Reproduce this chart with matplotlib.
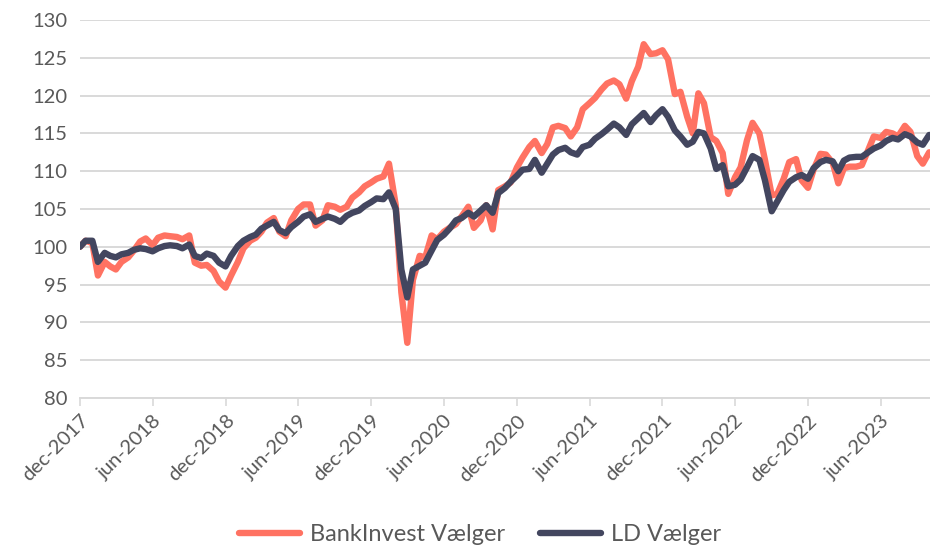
import matplotlib
matplotlib.use("Agg")
import matplotlib.pyplot as plt
import pandas as pd

# semi-monthly observations, dec-2017 .. oct-2023
dates = pd.date_range("2017-12-01", "2023-10-01", freq="SMS")

bankinvest = [
    100.0, 100.8, 100.5, 96.2, 98.0, 97.4, 97.0, 98.0, 98.6, 99.5, 100.7, 101.1,
    100.2, 101.2, 101.5, 101.4, 101.3, 101.0, 101.5, 97.9, 97.5, 97.6, 96.8, 95.4,
    94.6, 96.2, 98.0, 99.8, 100.8, 101.2, 102.0, 103.2, 103.8, 102.0, 101.4, 103.5,
    105.0, 105.6, 105.6, 102.8, 103.5, 105.5, 105.3, 104.9, 105.3, 106.5, 107.2, 108.0,
    108.5, 109.0, 109.3, 111.0, 105.5, 94.0, 87.3, 95.6, 98.8, 98.6, 101.5, 101.0,
    102.0, 102.5, 103.0, 104.0, 105.3, 102.5, 103.5, 105.5, 102.3, 107.5, 108.0, 108.5,
    110.5, 111.8, 113.2, 114.0, 112.4, 113.6, 115.8, 116.0, 115.7, 114.6, 115.8, 118.2,
    119.0, 119.7, 120.8, 121.6, 122.0, 121.5, 119.6, 121.9, 123.8, 126.8, 125.5, 125.6,
    126.0, 124.8, 120.2, 120.5, 117.2, 115.0, 120.3, 119.0, 114.5, 114.0, 112.4, 107.0,
    109.2, 110.5, 114.1, 116.4, 115.0, 111.5, 106.8, 107.0, 109.0, 111.2, 111.6, 108.8,
    107.8, 110.2, 112.3, 112.2, 111.1, 108.4, 110.4, 110.6, 110.6, 110.8, 112.8, 114.6,
    114.4, 115.2, 115.0, 114.6, 116.0, 115.2, 112.0, 111.0, 112.5,
]

ld = [
    100.0, 100.8, 100.8, 98.0, 99.2, 98.8, 98.6, 99.0, 99.2, 99.6, 99.8, 99.7,
    99.4, 99.8, 100.1, 100.2, 100.1, 99.8, 100.3, 98.8, 98.5, 99.1, 98.8, 97.9,
    97.4, 98.8, 100.1, 100.8, 101.3, 101.6, 102.4, 102.8, 103.3, 102.2, 101.8, 102.6,
    103.3, 104.0, 104.3, 103.3, 103.7, 104.0, 103.7, 103.3, 104.1, 104.5, 104.8, 105.4,
    105.9, 106.4, 106.3, 107.2, 105.0, 97.0, 93.3, 97.0, 97.5, 97.9, 99.5, 100.9,
    101.6, 102.4, 103.5, 103.8, 104.5, 104.0, 104.8, 105.5, 104.5, 107.1, 107.8, 108.6,
    109.4, 110.2, 110.3, 111.5, 109.8, 111.0, 112.2, 112.8, 113.1, 112.5, 112.2, 113.2,
    113.5, 114.3, 114.9, 115.5, 116.3, 115.8, 114.8, 116.2, 117.0, 117.7, 116.5, 117.4,
    118.2, 117.2, 115.4, 114.6, 113.5, 113.9, 115.2, 115.0, 113.0, 110.3, 110.8, 108.0,
    108.2, 108.9, 110.5, 112.0, 111.5, 108.8, 104.7, 106.0, 107.5, 108.6, 109.2, 109.5,
    109.0, 110.4, 111.2, 111.5, 111.3, 110.0, 111.4, 111.8, 111.9, 111.9, 112.5, 113.0,
    113.4, 114.0, 114.4, 114.2, 114.9, 114.6, 113.8, 113.5, 114.8,
]

tick_dates = pd.date_range("2017-12-01", "2023-06-01", freq="6MS")
tick_labels = ["dec-2017", "jun-2018", "dec-2018", "jun-2019", "dec-2019", "jun-2020",
               "dec-2020", "jun-2021", "dec-2021", "jun-2022", "dec-2022", "jun-2023"]

plt.rcParams["font.family"] = ["Lato", "DejaVu Sans"]
text_color = "#595959"

fig = plt.figure(figsize=(9.3, 5.5), dpi=100)
ax = fig.add_axes([0.086, 0.2764, 0.914, 0.6872])

ax.plot(dates, bankinvest, color="#ff7262", linewidth=4.6, solid_capstyle="round",
        label="BankInvest Vælger", zorder=3)
ax.plot(dates, ld, color="#43465f", linewidth=4.6, solid_capstyle="round",
        label="LD Vælger", zorder=4)

ax.set_ylim(80, 130)
ax.set_yticks(range(80, 131, 5))
ax.set_xlim(pd.Timestamp("2017-12-01"), pd.Timestamp("2023-10-03"))
ax.set_xticks(tick_dates)
ax.set_xticklabels(tick_labels, rotation=45, ha="right", rotation_mode="anchor")

ax.grid(axis="y", color="#d9d9d9", linewidth=1.4)
ax.set_axisbelow(True)
for side in ["top", "right", "left"]:
    ax.spines[side].set_visible(False)
ax.spines["bottom"].set_color("#d9d9d9")
ax.spines["bottom"].set_linewidth(1.4)

ax.tick_params(axis="y", length=0, pad=9, labelsize=14.5, labelcolor=text_color)
ax.tick_params(axis="x", length=6, width=1.2, color="#d9d9d9", pad=4,
               labelsize=14.5, labelcolor=text_color)

leg = fig.legend(loc="lower center", bbox_to_anchor=(0.516, -0.03), ncol=2,
                 frameon=False, fontsize=17, handlelength=2.6, columnspacing=1.5,
                 handletextpad=0.4)
for t in leg.get_texts():
    t.set_color(text_color)

fig.savefig("out.png", dpi=100)
